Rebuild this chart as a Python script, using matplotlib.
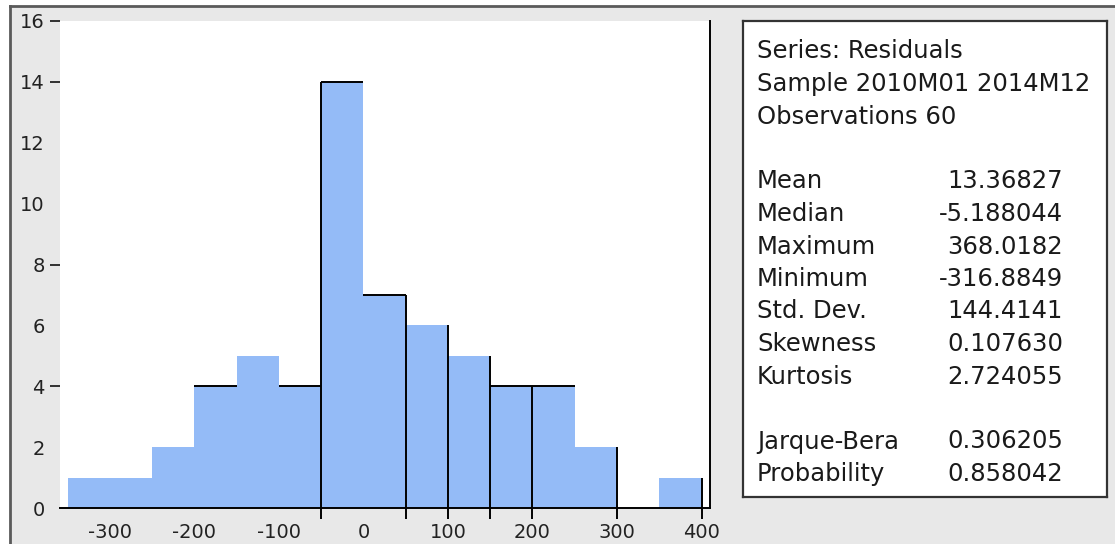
"""Residual histogram with the summary-statistics box, EViews style."""

import matplotlib.pyplot as plt
from matplotlib.lines import Line2D
from matplotlib.patches import Rectangle

# histogram bins (width 50) and the number of residuals in each
BIN_LEFT = [-350, -300, -250, -200, -150, -100, -50, 0, 50, 100, 150, 200, 250, 300, 350]
COUNTS = [1, 1, 2, 4, 5, 4, 14, 7, 6, 5, 4, 4, 2, 0, 1]
BIN_WIDTH = 50

# bar edges / tops that carry a dark outline
OUTLINED_EDGES = [-50, 50, 100, 150, 200, 300, 400]
OUTLINED_TOPS = [-200, -100, -50, 0, 150, 200]

X_TICKS = [-300, -200, -100, 0, 100, 200, 300, 400]
Y_TICKS = [0, 2, 4, 6, 8, 10, 12, 14, 16]
Y_DASHES = [4, 8, 14, 16]

HEADER = ["Series: Residuals", "Sample 2010M01 2014M12", "Observations 60"]
STAT_NAMES = ["Mean", "Median", "Maximum", "Minimum", "Std. Dev.", "Skewness", "Kurtosis"]
STAT_VALUES = ["13.36827", "-5.188044", "368.0182", "-316.8849", "144.4141", "0.107630", "2.724055"]
TEST_NAMES = ["Jarque-Bera", "Probability"]
TEST_VALUES = ["0.306205", "0.858042"]

FILL = "#94bbf7"
BG = "#e8e8e8"
W, H = 1115, 544

plt.rcParams["font.family"] = ["DejaVu Sans"]
plt.rcParams["axes.unicode_minus"] = False


def fx(px):
    return px / W


def fy(py):
    return 1 - py / H


fig = plt.figure(figsize=(W / 100, H / 100), dpi=100, facecolor=BG)

# white margin and dark window frame
fig.add_artist(Rectangle((0, fy(6)), 1, 1 - fy(6), transform=fig.transFigure,
                         facecolor="white", edgecolor="none"))
fig.add_artist(Rectangle((0, 0), fx(10), 1, transform=fig.transFigure,
                         facecolor="white", edgecolor="none"))
fig.add_artist(Line2D([fx(10), 1], [fy(6), fy(6)], color="#5a5a5a", lw=2))
fig.add_artist(Line2D([fx(10), fx(10)], [0, fy(6)], color="#5a5a5a", lw=2))

ax = fig.add_axes([fx(60), fy(508), fx(710 - 60), (508 - 21) / H])
ax.set_facecolor("white")
ax.bar(BIN_LEFT, COUNTS, width=BIN_WIDTH, align="edge", color=FILL, linewidth=0)

# partial bar outlines
for left in OUTLINED_TOPS:
    i = BIN_LEFT.index(left)
    ax.plot([left, left + BIN_WIDTH], [COUNTS[i], COUNTS[i]],
            color="black", lw=1.4, solid_capstyle="butt")
for edge in OUTLINED_EDGES:
    h_left = COUNTS[BIN_LEFT.index(edge - BIN_WIDTH)] if edge - BIN_WIDTH in BIN_LEFT else 0
    h_right = COUNTS[BIN_LEFT.index(edge)] if edge in BIN_LEFT else 0
    ax.plot([edge, edge], [-0.37, max(h_left, h_right)], color="black", lw=1.4,
            clip_on=False, solid_capstyle="butt")

ax.set_xlim(-359, 410)
ax.set_ylim(0, 16)
ax.set_xticks(X_TICKS)
ax.set_yticks(Y_TICKS)
ax.yaxis.remove_overlapping_locs = False
ax.set_yticks(Y_DASHES, minor=True)
ax.tick_params(axis="both", which="major", length=0, labelsize=14,
               labelcolor="#222222")
ax.tick_params(axis="y", which="major", pad=11)
ax.tick_params(axis="x", which="major", pad=11)
ax.tick_params(axis="y", which="minor", length=7, width=1.3, color="#222222")
ax.tick_params(axis="x", which="minor", length=0)
for side in ("left", "top"):
    ax.spines[side].set_visible(False)
for side in ("bottom", "right"):
    ax.spines[side].set_color("black")
    ax.spines[side].set_linewidth(1.4)

# statistics box
box = fig.add_axes([fx(743), fy(497), fx(1107 - 743), (497 - 21) / H])
box.set_facecolor("white")
box.set_xticks([])
box.set_yticks([])
for sp in box.spines.values():
    sp.set_color("#333333")
    sp.set_linewidth(1.6)

row_gap = 32.5
text_kw = dict(fontsize=17.5, color="#1a1a1a", va="baseline")
rows = [(t, None) for t in HEADER] + [None]
rows += list(zip(STAT_NAMES, STAT_VALUES)) + [None]
rows += list(zip(TEST_NAMES, TEST_VALUES))
for k, row in enumerate(rows):
    if row is None:
        continue
    base = fy(50 + row_gap * k + 8.5)
    name, value = row
    fig.text(fx(757), base, name, ha="left", **text_kw)
    if value is not None:
        fig.text(fx(1063), base, value, ha="right", **text_kw)

fig.savefig("out.png", dpi=100, facecolor=BG)
